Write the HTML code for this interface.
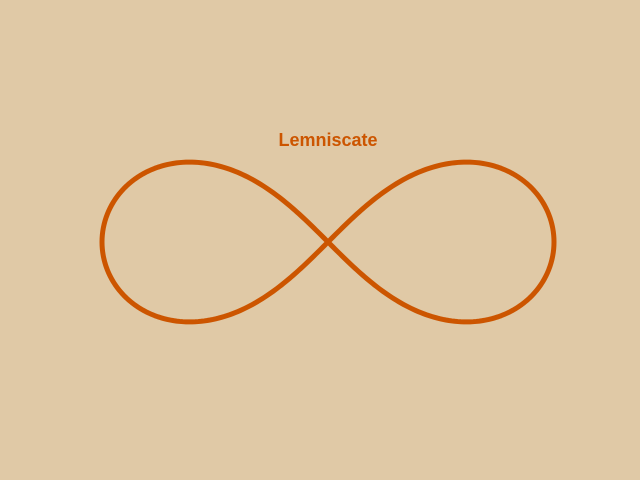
<!DOCTYPE html>
<html>
<head>
<meta charset="utf-8">
<style>
  html,body{margin:0;padding:0;background:#e0c9a6;}
  svg{display:block;}
</style>
</head>
<body>
<svg id="chart" width="640" height="480" viewBox="0 0 640 480">
  <rect x="0" y="0" width="640" height="480" fill="#e0c9a6"/>
  <text x="328" y="146" text-anchor="middle" font-family="'Liberation Sans', 'DejaVu Sans', sans-serif" font-weight="bold" font-size="18" fill="#cc5500">Lemniscate</text>
  <path id="curve" fill="none" stroke="#cc5500" stroke-width="5" stroke-linejoin="round"/>
</svg>
<script>
// data: lemniscate of Bernoulli parameter (scale in data units) and sampling
var scaleA = [1];
var tRange = [0, 2 * Math.PI];
var sampleCount = [400];

// axis functions
var xDomain = [-1, 1], yDomain = [-1, 1];
function xScale(v){ return 328 + v * 226; }
function yScale(v){ return 242 - v * 226; }

var a = scaleA[0];
var n = sampleCount[0];
var d = "";
for (var i = 0; i <= n; i++) {
  var t = tRange[0] + (tRange[1] - tRange[0]) * i / n;
  var s = Math.sin(t), c = Math.cos(t);
  var den = 1 + s * s;
  var x = a * c / den;
  var y = a * s * c / den;
  d += (i === 0 ? "M" : "L") + xScale(x).toFixed(2) + "," + yScale(y).toFixed(2);
}
d += "Z";
document.getElementById("curve").setAttribute("d", d);
</script>
</body>
</html>
